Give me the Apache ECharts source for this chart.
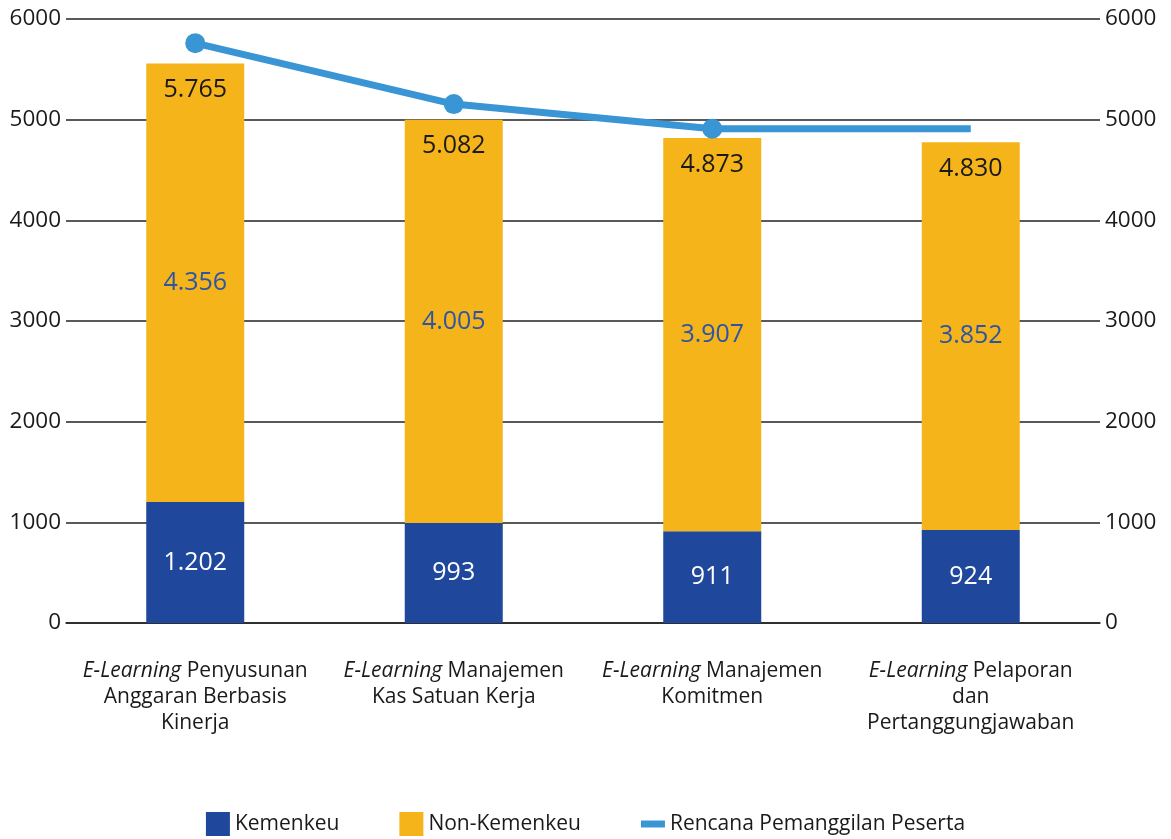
<!DOCTYPE html>
<html><head><meta charset="utf-8">
<script src="https://cdn.jsdelivr.net/npm/echarts@6/dist/echarts.min.js"></script>
<style>html,body{margin:0;padding:0;background:#fff}#c{width:1171px;height:839px}</style>
</head><body><div id="c"></div>
<script>
const categories = [
  'E-Learning Penyusunan\nAnggaran Berbasis\nKinerja',
  'E-Learning Manajemen\nKas Satuan Kerja',
  'E-Learning Manajemen\nKomitmen',
  'E-Learning Pelaporan\ndan\nPertanggungjawaban'
];
const kemenkeu = [1202, 993, 911, 924];
const nonKemenkeu = [4356, 4005, 3907, 3852];
const rencana = [5760, 5155, 4910, 4910];
const rencanaLabels = ['5.765', '5.082', '4.873', '4.830'];
const seriesNames = ['Kemenkeu', 'Non-Kemenkeu', 'Rencana Pemanggilan Peserta'];

const FONT = 'Open Sans';
const fmt = v => String(v).replace(/\B(?=(\d{3})+(?!\d))/g, '.');

const chart = echarts.init(document.getElementById('c'));
const yAxisCommon = {
  type: 'value', min: 0, max: 6000, interval: 1000,
  axisLine: { show: false }, axisTick: { show: false },
  axisLabel: { fontFamily: FONT, fontSize: 22.5, color: '#1a1a1a', margin: 5, formatter: v => String(v) }
};
chart.setOption({
  animation: false,
  textStyle: { fontFamily: FONT },
  grid: { left: 66, right: 71, top: 19, bottom: 216, containLabel: false },
  legend: {
    top: 812, left: 'center', padding: 0, itemWidth: 24, itemHeight: 24, itemGap: 60,
    textStyle: { fontFamily: FONT, fontSize: 21, color: '#1a1a1a' },
    data: [
      { name: seriesNames[0], icon: 'rect' },
      { name: seriesNames[1], icon: 'rect' },
      { name: seriesNames[2], icon: 'path://M0,0 M24,24 M0,8.5 H24 V15.5 H0 Z' }
    ]
  },
  xAxis: {
    type: 'category', data: categories,
    axisLine: { show: true, lineStyle: { color: '#222', width: 1.5 } },
    axisTick: { show: false },
    axisLabel: {
      interval: 0, margin: 35, fontFamily: FONT, fontSize: 21, lineHeight: 26, color: '#1a1a1a', align: 'center',
      formatter: s => s.replace('E-Learning', '{i|E-Learning}'),
      rich: { i: { fontStyle: 'italic', fontFamily: FONT, fontSize: 21, lineHeight: 26, color: '#1a1a1a' } }
    }
  },
  yAxis: [
    Object.assign({}, yAxisCommon, { position: 'left', splitLine: { show: true, lineStyle: { color: '#222', width: 1.5 } } }),
    Object.assign({}, yAxisCommon, { position: 'right', splitLine: { show: false } })
  ],
  series: [
    {
      name: seriesNames[0], type: 'bar', stack: 'a', barWidth: 98, data: kemenkeu,
      itemStyle: { color: '#1f479b' },
      label: { show: true, position: 'inside', fontFamily: FONT, fontSize: 25, color: '#ffffff', formatter: p => fmt(p.value) }
    },
    {
      name: seriesNames[1], type: 'bar', stack: 'a', barWidth: 98, data: nonKemenkeu,
      itemStyle: { color: '#f4b41a' },
      label: { show: true, position: 'inside', fontFamily: FONT, fontSize: 25, color: '#2e55a4', formatter: p => fmt(p.value) }
    },
    {
      name: 'labels', type: 'bar', stack: 'a', barWidth: 98, data: rencanaLabels.map(() => 0),
      itemStyle: { color: 'rgba(0,0,0,0)' },
      label: { show: true, position: 'insideTop', distance: 14, fontFamily: FONT, fontSize: 25, color: '#1a1a1a',
        formatter: p => rencanaLabels[p.dataIndex] }
    },
    {
      name: seriesNames[2], type: 'line', yAxisIndex: 1, z: 10,
      data: rencana.map((v, i) => i === rencana.length - 1 ? { value: v, symbol: 'none' } : v),
      symbol: 'circle', symbolSize: 20,
      itemStyle: { color: '#3a95d5' },
      lineStyle: { color: '#3a95d5', width: 7 }
    }
  ]
});
</script></body></html>
